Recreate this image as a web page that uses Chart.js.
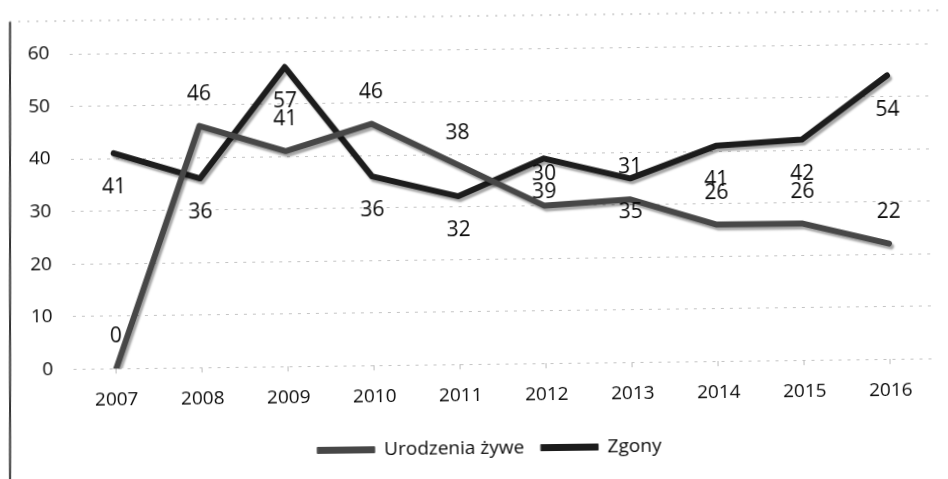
<!DOCTYPE html>
<html lang="pl">
<head>
<meta charset="utf-8">
<title>Urodzenia żywe i zgony 2007–2016</title>
<script src="https://cdn.jsdelivr.net/npm/chart.js@4.4.1/dist/chart.umd.min.js"></script>
<style>
    html, body { margin: 0; padding: 0; background: #fff; overflow: hidden; }
    #kontener {
        position: absolute; left: 0; top: 0;
        width: 948px; height: 479px;
        transform: rotate(-0.7deg);
    }
</style>
</head>
<body>
<div id="kontener"><canvas id="wykres"></canvas></div>
<script>
// dane
const lata = ['2007', '2008', '2009', '2010', '2011', '2012', '2013', '2014', '2015', '2016'];
const urodzeniaZywe = [0, 46, 41, 46, 38, 30, 31, 26, 26, 22];
const zgony = [41, 36, 57, 36, 32, 39, 35, 41, 42, 54];
const osYMin = 0;
const osYMax = 60;
const osYKrok = 10;

// przesuniecie etykiet danych wzgledem punktu (px): urodzenia nad linia, zgony pod linia
const przesuniecieEtykiet = [-32, 34];

const kat = 0.7 * Math.PI / 180;

// ramka skanu (lewa krawedz i gorna kropkowana linia)
const ramka = {
    id: 'ramka',
    beforeDraw(chart) {
        const ctx = chart.ctx;
        ctx.save();
        ctx.strokeStyle = '#333';
        ctx.lineWidth = 2;
        ctx.beginPath();
        ctx.moveTo(10 - (16 - 240) * Math.tan(kat), 16);
        ctx.lineTo(10 - (490 - 240) * Math.tan(kat), 490);
        ctx.stroke();
        ctx.strokeStyle = '#aaa';
        ctx.lineWidth = 1;
        ctx.setLineDash([2, 7]);
        ctx.beginPath();
        ctx.moveTo(12, 16);
        ctx.lineTo(948, 16);
        ctx.stroke();
        ctx.restore();
    }
};

// legenda w oryginale jest lekko przesunieta w prawo
const legendaPrzesun = {
    id: 'legendaPrzesun',
    afterLayout(chart) {
        chart.legend.left += 16;
        chart.legend.right += 16;
    }
};

// cien pod liniami
const cien = {
    id: 'cien',
    beforeDatasetDraw(chart) {
        const ctx = chart.ctx;
        ctx.save();
        ctx.shadowColor = 'rgba(0,0,0,0.35)';
        ctx.shadowOffsetX = 2;
        ctx.shadowOffsetY = 3;
        ctx.shadowBlur = 2;
    },
    afterDatasetDraw(chart) {
        chart.ctx.restore();
    }
};

// etykiety wartosci
const etykiety = {
    id: 'etykiety',
    afterDatasetsDraw(chart) {
        const ctx = chart.ctx;
        ctx.save();
        ctx.font = '21px "Open Sans"';
        ctx.fillStyle = '#0a0a0a';
        ctx.textAlign = 'center';
        ctx.textBaseline = 'middle';
        chart.data.datasets.forEach((ds, i) => {
            const meta = chart.getDatasetMeta(i);
            meta.data.forEach((pt, j) => {
                ctx.fillText(String(ds.data[j]), pt.x, pt.y + przesuniecieEtykiet[i]);
            });
        });
        ctx.restore();
    }
};

function rysuj() {
    Chart.defaults.font.family = '"Open Sans", sans-serif';
    Chart.defaults.font.size = 19;
    Chart.defaults.color = '#0a0a0a';

    new Chart(document.querySelector('#wykres'), {
        type: 'line',
        data: {
            labels: lata,
            datasets: [{
                label: 'Urodzenia żywe',
                data: urodzeniaZywe,
                borderColor: '#474747',
                backgroundColor: '#474747',
                borderWidth: 6,
                borderCapStyle: 'round',
                borderJoinStyle: 'round',
                pointRadius: 0,
                tension: 0
            }, {
                label: 'Zgony',
                data: zgony,
                borderColor: '#1c1c1c',
                backgroundColor: '#1c1c1c',
                borderWidth: 6,
                borderCapStyle: 'round',
                borderJoinStyle: 'round',
                pointRadius: 0,
                tension: 0
            }]
        },
        options: {
            responsive: true,
            maintainAspectRatio: false,
            animation: false,
            layout: {
                padding: { left: 10, right: 16, top: 49, bottom: 11 }
            },
            scales: {
                x: {
                    offset: true,
                    grid: {
                        drawOnChartArea: false,
                        drawTicks: true,
                        tickLength: 5,
                        color: '#bbb'
                    },
                    border: { display: false },
                    ticks: { padding: 15 }
                },
                y: {
                    min: osYMin,
                    max: osYMax,
                    ticks: { stepSize: osYKrok, padding: 20 },
                    grid: { drawTicks: false, color: '#c4c4c4' },
                    border: { display: false, dash: [3, 6] }
                }
            },
            plugins: {
                tooltip: { enabled: false },
                legend: {
                    position: 'bottom',
                    labels: {
                        boxWidth: 57,
                        boxHeight: 6,
                        padding: 17,
                        generateLabels(chart) {
                            return Chart.defaults.plugins.legend.labels.generateLabels(chart)
                                .map(l => Object.assign(l, { fillStyle: l.strokeStyle, lineWidth: 1 }));
                        }
                    }
                }
            }
        },
        plugins: [ramka, legendaPrzesun, cien, etykiety]
    });
}

document.fonts.load('19px "Open Sans"').then(rysuj, rysuj);
</script>
</body>
</html>
